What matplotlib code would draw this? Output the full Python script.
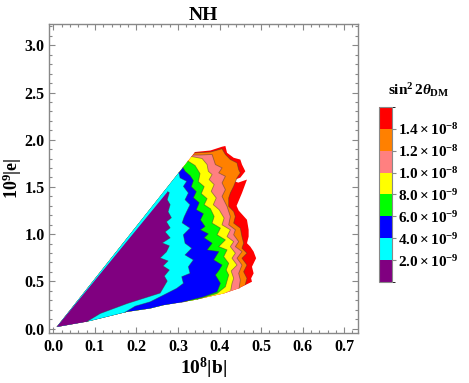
import matplotlib.pyplot as plt
import matplotlib as mpl
from matplotlib.colors import ListedColormap, BoundaryNorm
from matplotlib.ticker import MultipleLocator, FormatStrFormatter

plt.rcParams['font.family'] = 'Liberation Serif'
plt.rcParams['font.weight'] = 'bold'
plt.rcParams['mathtext.fontset'] = 'custom'
plt.rcParams['mathtext.rm'] = 'Liberation Serif:bold'
plt.rcParams['mathtext.bf'] = 'Liberation Serif:bold'
plt.rcParams['mathtext.it'] = 'Liberation Serif:italic:bold'

# sin^2 2theta_DM levels and colours (lowest to highest)
levels = [0, 2e-9, 4e-9, 6e-9, 8e-9, 1.0e-8, 1.2e-8, 1.4e-8, 1.6e-8]
tick_vals = [2e-9, 4e-9, 6e-9, 8e-9, 1.0e-8, 1.2e-8, 1.4e-8]
band_colors = ['#800080', '#00ffff', '#0000ff', '#00ff00',
               '#ffff00', '#ff8080', '#ff8000', '#ff0000']

# lower edge of the allowed region (10^8|b|, 10^9|e|), starting at the tip
bottom_x = [0.008, 0.088, 0.177, 0.233, 0.265, 0.337, 0.373, 0.410, 0.446, 0.478]
bottom_y = [0.017, 0.081, 0.177, 0.213, 0.248, 0.301, 0.336, 0.372, 0.426, 0.496]

# right-hand boundaries of each level region, top to bottom
purple_x = [0.275, 0.279, 0.274, 0.281, 0.276, 0.284, 0.272, 0.281, 0.269, 0.281,
            0.262, 0.279, 0.272, 0.257, 0.276, 0.264, 0.279, 0.267, 0.274, 0.257,
            0.178, 0.113, 0.080]
purple_y = [1.450, 1.440, 1.365, 1.312, 1.237, 1.174, 1.131, 1.067, 1.024, 0.961,
            0.907, 0.876, 0.812, 0.748, 0.716, 0.663, 0.620, 0.556, 0.503, 0.376,
            0.266, 0.160, 0.072]

cyan_x = [0.302, 0.305, 0.321, 0.313, 0.325, 0.317, 0.329, 0.321, 0.315, 0.310,
          0.329, 0.313, 0.317, 0.333, 0.317, 0.337, 0.325, 0.329, 0.309, 0.313,
          0.297, 0.265, 0.233, 0.197, 0.173]
cyan_y = [1.652, 1.596, 1.560, 1.506, 1.436, 1.365, 1.312, 1.240, 1.184, 1.120,
          1.064, 0.993, 0.904, 0.851, 0.780, 0.727, 0.655, 0.585, 0.549, 0.479,
          0.426, 0.354, 0.283, 0.237, 0.174]

blue_x = [0.312, 0.317, 0.329, 0.337, 0.332, 0.344, 0.337, 0.351, 0.344, 0.361,
          0.354, 0.365, 0.354, 0.373, 0.363, 0.382, 0.370, 0.398, 0.386, 0.406,
          0.399, 0.390, 0.402, 0.394, 0.361, 0.309]
blue_y = [1.705, 1.666, 1.620, 1.567, 1.503, 1.450, 1.386, 1.333, 1.259, 1.216,
          1.152, 1.081, 1.046, 1.003, 0.961, 0.904, 0.833, 0.815, 0.727, 0.673,
          0.620, 0.567, 0.479, 0.389, 0.336, 0.278]

green_x = [0.324, 0.341, 0.353, 0.349, 0.363, 0.356, 0.370, 0.363, 0.378, 0.387,
           0.382, 0.402, 0.394, 0.414, 0.398, 0.418, 0.410, 0.422, 0.416, 0.422,
           0.414, 0.394, 0.346]
green_y = [1.774, 1.727, 1.641, 1.556, 1.503, 1.429, 1.376, 1.312, 1.269, 1.187,
           1.117, 1.064, 0.993, 0.939, 0.868, 0.833, 0.762, 0.691, 0.620, 0.567,
           0.443, 0.372, 0.309]

yellow_x = [0.333, 0.358, 0.370, 0.373, 0.382, 0.375, 0.387, 0.380, 0.392, 0.385,
            0.399, 0.411, 0.406, 0.426, 0.418, 0.434, 0.426, 0.438, 0.430, 0.442,
            0.428, 0.434, 0.430, 0.427]
yellow_y = [1.822, 1.801, 1.737, 1.666, 1.631, 1.578, 1.525, 1.453, 1.383, 1.312,
            1.259, 1.170, 1.099, 1.046, 0.974, 0.921, 0.868, 0.798, 0.745, 0.673,
            0.610, 0.532, 0.479, 0.407]

pink_x = [0.337, 0.353, 0.382, 0.390, 0.406, 0.398, 0.414, 0.406, 0.414, 0.406,
          0.418, 0.426, 0.422, 0.438, 0.434, 0.446, 0.438, 0.454, 0.442, 0.454,
          0.446, 0.450, 0.447]
pink_y = [1.838, 1.838, 1.844, 1.737, 1.702, 1.649, 1.613, 1.543, 1.471, 1.400,
          1.294, 1.187, 1.099, 1.046, 0.993, 0.921, 0.868, 0.815, 0.745, 0.673,
          0.585, 0.514, 0.426]

orange_x = [0.340, 0.378, 0.406, 0.414, 0.426, 0.442, 0.446, 0.450, 0.442, 0.434,
            0.426, 0.422, 0.422, 0.434, 0.438, 0.434, 0.450, 0.454, 0.458, 0.454,
            0.466, 0.454, 0.466, 0.458, 0.466, 0.462]
orange_y = [1.860, 1.870, 1.904, 1.844, 1.790, 1.755, 1.684, 1.649, 1.596, 1.506,
            1.436, 1.383, 1.294, 1.240, 1.187, 1.117, 1.064, 0.974, 0.904, 0.851,
            0.798, 0.745, 0.673, 0.602, 0.532, 0.466]

red_x = [0.341, 0.378, 0.406, 0.414, 0.418, 0.434, 0.450, 0.454, 0.462, 0.450,
         0.431, 0.445, 0.466, 0.454, 0.441, 0.446, 0.466, 0.470, 0.470, 0.466,
         0.474, 0.482, 0.488, 0.478, 0.482, 0.476, 0.478]
red_y = [1.870, 1.886, 1.926, 1.934, 1.862, 1.809, 1.790, 1.737, 1.666, 1.599,
         1.567, 1.546, 1.578, 1.436, 1.300, 1.250, 1.152, 1.046, 0.974, 0.904,
         0.868, 0.815, 0.745, 0.655, 0.585, 0.532, 0.496]

boundaries = [(purple_x, purple_y), (cyan_x, cyan_y), (blue_x, blue_y),
              (green_x, green_y), (yellow_x, yellow_y), (pink_x, pink_y),
              (orange_x, orange_y), (red_x, red_y)]


def region(bx, by):
    # close a level region along the lower edge back to the tip
    end_x = bx[-1]
    ex = [x for x in bottom_x[1:] if x < end_x][::-1]
    ey = [y for x, y in zip(bottom_x[1:], bottom_y[1:]) if x < end_x][::-1]
    return [bottom_x[0]] + bx + ex, [bottom_y[0]] + by + ey


fig = plt.figure(figsize=(4.69, 3.83), dpi=100)
ax = fig.add_axes([0.1045, 0.1298, 0.6595, 0.8076])

for k in range(len(boundaries) - 1, -1, -1):
    bx, by = boundaries[k]
    px, py = region(bx, by)
    ax.fill(px, py, color=band_colors[k], lw=0, zorder=2)
for k in range(len(boundaries) - 1):
    bx, by = boundaries[k]
    ax.plot(bx, by, color=(0.25, 0.2, 0.2), alpha=0.5, lw=0.6, zorder=3)

ax.set_xlim(-0.0105, 0.734)
ax.set_ylim(-0.05, 3.226)
ax.xaxis.set_major_locator(MultipleLocator(0.1))
ax.xaxis.set_minor_locator(MultipleLocator(0.02))
ax.yaxis.set_major_locator(MultipleLocator(0.5))
ax.yaxis.set_minor_locator(MultipleLocator(0.1))
ax.xaxis.set_major_formatter(FormatStrFormatter('%.1f'))
ax.yaxis.set_major_formatter(FormatStrFormatter('%.1f'))
ax.tick_params(which='both', direction='in', top=True, right=True,
               color='#888888', width=0.8, labelsize=11.5)
ax.tick_params(which='major', length=4.5)
ax.tick_params(which='minor', length=2.2)
ax.tick_params(axis='x', pad=4)
ax.tick_params(axis='y', pad=3)
for s in ax.spines.values():
    s.set_color('#888888')
    s.set_linewidth(1.0)

ax.set_title('NH', fontsize=14, fontweight='bold', pad=3)
ax.set_xlabel(r'$\mathbf{10^8|b|}$', fontsize=14, labelpad=1)
ax.set_ylabel(r'$\mathbf{10^9|e|}$', fontsize=13)
ax.yaxis.set_label_coords(-0.08, 0.5)

# colour legend
cax = fig.add_axes([0.8087, 0.2637, 0.0277, 0.457])
cmap = ListedColormap(band_colors)
norm = BoundaryNorm(levels, cmap.N)
cb = mpl.colorbar.ColorbarBase(cax, cmap=cmap, norm=norm, boundaries=levels,
                               ticks=tick_vals)


def sci_label(v):
    e = int(f'{v:e}'.split('e')[1])
    m = v / 10 ** e
    return r'$\mathbf{%.1f\times10^{%d}}$' % (m, e)


cb.set_ticklabels([sci_label(v) for v in tick_vals])
cax.tick_params(direction='out', length=3, color='#888888', labelsize=11, pad=1)
cb.outline.set_edgecolor('#888888')
cb.outline.set_linewidth(0.8)
fig.text(0.893, 0.765, r'$\mathbf{sin^2\,2}\theta_{\mathbf{DM}}$',
         ha='center', va='center', fontsize=11)

plt.savefig('out.png', dpi=100)
